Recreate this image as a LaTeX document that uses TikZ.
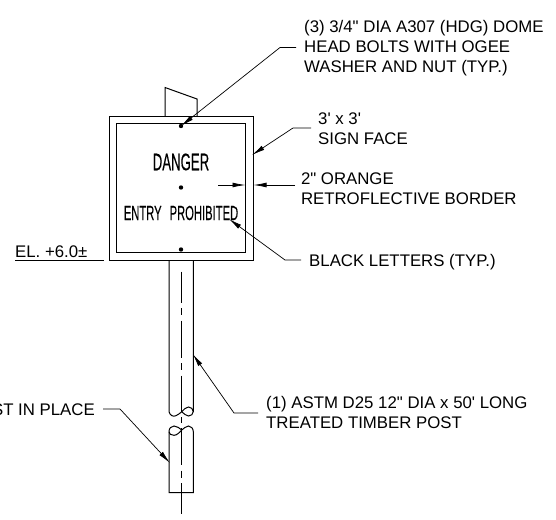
\documentclass[tikz,border=0pt]{standalone}
\usepackage{fontspec}
\setmainfont{Liberation Sans}
\newfontfamily\notef{Liberation Sans}
\newfontfamily\narrowf[FakeStretch=0.55,FakeBold=0.2]{Liberation Sans}
\usetikzlibrary{arrows.meta}
\tikzset{
 obj/.style={draw=black,line width=1pt},
 lead/.style={draw=black,line width=0.7pt},
 center line/.style={draw=black,line width=0.8pt,dash pattern=on 37pt off 5.5pt on 7pt off 5.5pt},
 tip/.style={-{Latex[length=13pt,width=4.8pt]}},
 note/.style={anchor=base west,align=left,inner sep=0pt,font=\notef\fontsize{16.8pt}{20pt}\selectfont},
 bolt/.style={circle,fill=black,inner sep=0pt,minimum size=4.4pt},
 sign/.style={inner sep=0pt}
}
\begin{document}
\begin{tikzpicture}[x=1pt,y=-1pt]
\useasboundingbox (0,0) rectangle (556,519);
% sign
\draw[obj] (109,116) rectangle (253.5,260);
\draw[obj] (116.7,123.5) rectangle (245.7,252);
\draw[obj] (165,116) -- (165,87.5) -- (197,99) -- (197,116);
% post, upper part with break
\draw[obj] (169,260) -- (169,411.7) .. controls (170,415.5) and (173,417) .. (176,415.7) .. controls (178.5,414.7) and (180,413) .. (181.7,411.7) .. controls (184,413.5) and (186,416) .. (188.5,416) .. controls (191,416) and (193.3,414) .. (193.3,411.7) -- (193.3,260);
\draw[obj] (181.7,411.7) .. controls (184,409.5) and (186,407) .. (188.5,407) .. controls (191,407) and (193.3,409) .. (193.3,411.7);
% post, lower part with break
\draw[obj] (169,431.7) -- (169,492.7) -- (193.3,492.7) -- (193.3,431.7) .. controls (193.3,428.5) and (191,426) .. (188.5,426) .. controls (186,426) and (184,428.5) .. (181.7,430) .. controls (180,428.5) and (177,426) .. (174,426) .. controls (171,426) and (169,428.5) .. (169,431.7);
\draw[obj] (169,431.7) .. controls (169,434) and (171,435.3) .. (174,435.3) .. controls (177,435.3) and (180,432) .. (181.7,430);
% centre line
\draw[center line,dash phase=6pt] (181,271.7) -- (181,412);
\draw[lead] (181,417) -- (181,423);
\draw[center line] (181,428) -- (181,514);
% bolts
\node[bolt] (b1) at (181,126) {};
\node[bolt] (b2) at (181,187.5) {};
\node[bolt] (b3) at (181,249.5) {};
% sign text
\node[sign,font=\narrowf\fontsize{24pt}{24pt}\selectfont] (danger) at (181,162) {DANGER};
\node[sign,font=\narrowf\fontsize{20.4pt}{21pt}\selectfont] (entry) at (181,213) {ENTRY\hspace{8pt}PROHIBITED};
% notes
\node[note] (n1) at (304,72.7) {(3) 3/4" DIA A307 (HDG) DOME\\HEAD BOLTS WITH OGEE\\WASHER AND NUT (TYP.)};
\node[note] (n2) at (318,144.3) {3' x 3'\\SIGN FACE};
\node[note] (n3) at (300.8,204.5) {2" ORANGE\\RETROFLECTIVE BORDER};
\node[note] (n4) at (309,266.7) {BLACK LETTERS (TYP.)};
\node[note] (n5) at (266,428) {(1) ASTM D25 12" DIA x 50' LONG\\TREATED TIMBER POST};
\node[note,anchor=base east] (n6) at (95,415) {ST IN PLACE};
\node[note] (n7) at (15,257) {EL. +6.0±};
% leaders
\coordinate (t1) at (181,126);
\coordinate (t2) at (252,155);
\coordinate (t3a) at (245.5,185);
\coordinate (t3b) at (253.5,185);
\coordinate (t4) at (229,219);
\coordinate (t5) at (192.7,354);
\coordinate (t6) at (170,463);
\draw[lead,tip] (296,47.5) -- (280,47.5) -- (t1);
\draw[lead,tip] (311,128) -- (293,128) -- (t2);
\draw[lead,tip] (218,185) -- (t3a);
\draw[lead,tip] (295,185) -- (t3b);
\draw[lead,tip] (301,260) -- (285,260) -- (t4);
\draw[lead,tip] (258,413) -- (234,413) -- (t5);
\draw[lead,tip] (103,409) -- (120,409) -- (t6);
\draw[lead] (15,260) -- (104,260);
\end{tikzpicture}
\end{document}
